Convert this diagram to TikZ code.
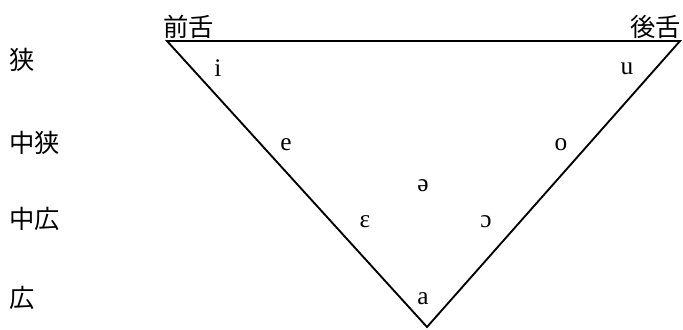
\documentclass[tikz,border=0pt]{standalone}
\usepackage{fontspec}
\setmainfont{Liberation Serif}
\newfontfamily\cjk{Noto Sans CJK JP}
\begin{document}
\begin{tikzpicture}[x=0.75pt,y=-0.75pt,thick]
  \tikzstyle{height}=[anchor=west, font=\cjk\fontsize{19}{22}\selectfont, inner sep=0pt]
  \tikzstyle{place}=[font=\cjk\fontsize{19}{22}\selectfont, inner sep=0pt]
  \tikzstyle{vowel}=[font=\fontsize{19}{22}\selectfont, inner sep=0pt]
  \useasboundingbox (0,0) rectangle (683,329);

  \coordinate (front) at (167,41);
  \coordinate (back) at (680,41);
  \coordinate (low) at (427,327);
  \draw[line width=1.4pt, line join=miter] (front) -- (back) -- (low) -- cycle;

  \node[place, anchor=south west] (fr) at ([xshift=-3pt,yshift=1.5pt]front) {前舌};
  \node[place, anchor=south east] (bk) at ([xshift=1pt,yshift=1.5pt]back) {後舌};

  \node[height] (h1) at (9,60) {狭};
  \node[height] (h2) at (9,143) {中狭};
  \node[height] (h3) at (9,219) {中広};
  \node[height] (h4) at (9,298) {広};

  \node[vowel] (i) at (218,68) {i};
  \node[vowel] (u) at (627,69) {u};
  \node[vowel] (e) at (286,145) {e};
  \node[vowel] (o) at (561,145) {o};
  \node[vowel] (schwa) at (423,186) {ə};
  \node[vowel] (epsilon) at (365,222) {ɛ};
  \node[vowel] (openo) at (486,222) {ɔ};
  \node[vowel] (a) at (423,299) {a};
\end{tikzpicture}
\end{document}
